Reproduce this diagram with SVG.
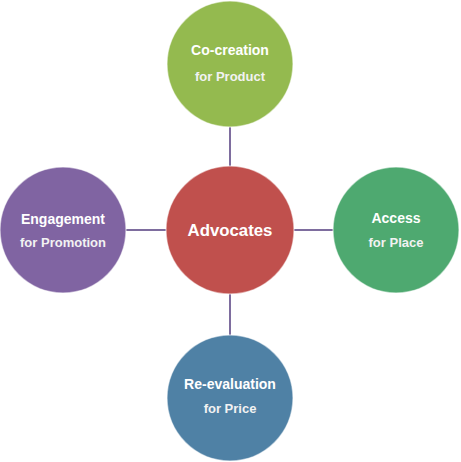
<svg xmlns="http://www.w3.org/2000/svg" width="461" height="462" viewBox="0 0 461 462">
<style>
.c{stroke:#ffffff;stroke-opacity:0.5;stroke-width:1.5}
.t{font-family:"Liberation Sans",Arial,sans-serif;font-weight:bold;fill:#ffffff;text-anchor:middle}
.m{font-size:14px}
.s{font-size:13px;fill:#f2f2f2}
.conn line{stroke:#7e6d9e;stroke-width:2}
</style>
<rect width="461" height="462" fill="#ffffff"/>
<g id="connectors" class="conn">
<line x1="230" y1="126" x2="230" y2="167"/>
<line x1="126" y1="230" x2="166" y2="230"/>
<line x1="294" y1="230" x2="333" y2="230"/>
<line x1="230" y1="293" x2="230" y2="335"/>
</g>
<g id="center">
<circle class="c" cx="230" cy="230" r="64" fill="#c0504d"/>
<text class="t" x="230" y="236" style="font-size:16.8px">Advocates</text>
</g>
<g id="top">
<circle class="c" cx="230" cy="64" r="63" fill="#94ba4f"/>
<text class="t m" x="230" y="55">Co-creation</text>
<text class="t s" x="230" y="81">for Product</text>
</g>
<g id="left">
<circle class="c" cx="63" cy="230" r="63" fill="#8064a2"/>
<text class="t m" x="63" y="224">Engagement</text>
<text class="t s" x="63" y="247">for Promotion</text>
</g>
<g id="right">
<circle class="c" cx="396" cy="230" r="63" fill="#4ea970"/>
<text class="t m" x="396" y="223">Access</text>
<text class="t s" x="396" y="247">for Place</text>
</g>
<g id="bottom">
<circle class="c" cx="230" cy="398" r="63" fill="#4f81a5"/>
<text class="t m" x="230" y="389">Re-evaluation</text>
<text class="t s" x="230" y="413">for Price</text>
</g>
</svg>
